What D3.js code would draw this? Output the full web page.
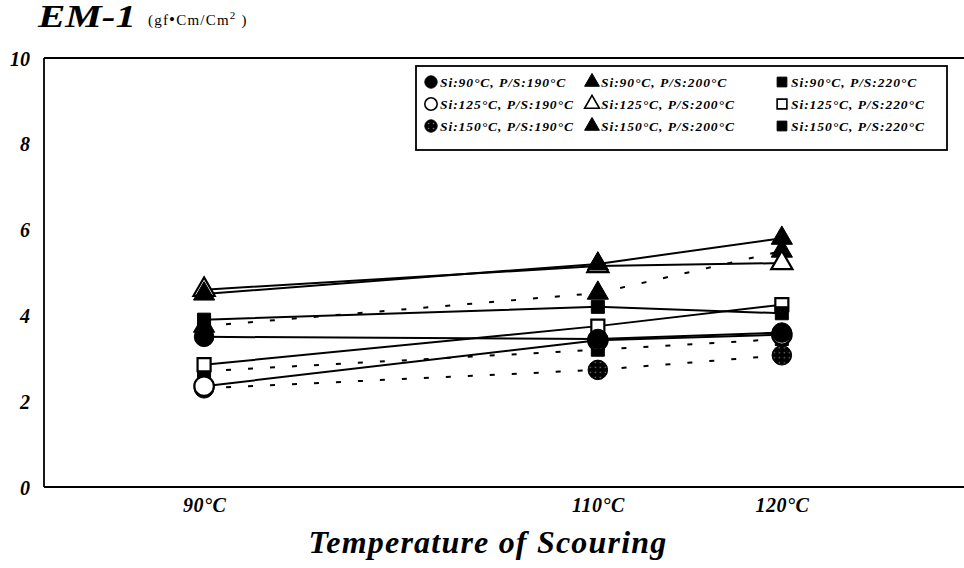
<!DOCTYPE html>
<html><head><meta charset="utf-8">
<script src="https://cdn.jsdelivr.net/npm/d3@7"></script>
<style>
html,body{margin:0;padding:0;background:#fff;}
svg{display:block;}
text{font-family:"Liberation Serif","DejaVu Serif",serif;font-style:italic;font-weight:bold;fill:#000;}
</style></head>
<body><svg id="chart" width="964" height="568"></svg>
<script>
// ---- data ----
const temps = [90, 110, 120];
const tempLabels = ["90°C", "110°C", "120°C"];
const yTicks = [0, 2, 4, 6, 8, 10];
const siLevels = ["90", "125", "150"];
const psLevels = ["190", "200", "220"];
// values at 90°C, 110°C, 120°C
const si90_ps190  = [3.5, 3.45, 3.6];
const si90_ps200  = [4.5, 5.2, 5.8];
const si90_ps220  = [3.9, 4.2, 4.05];
const si125_ps190 = [2.35, 3.42, 3.55];
const si125_ps200 = [4.6, 5.15, 5.22];
const si125_ps220 = [2.85, 3.75, 4.25];
const si150_ps190 = [2.3, 2.73, 3.07];
const si150_ps200 = [3.75, 4.52, 5.5];
const si150_ps220 = [2.7, 3.2, 3.45];

const series = [
  {si:"90",  ps:"190", v:si90_ps190},
  {si:"90",  ps:"200", v:si90_ps200},
  {si:"90",  ps:"220", v:si90_ps220},
  {si:"125", ps:"190", v:si125_ps190},
  {si:"125", ps:"200", v:si125_ps200},
  {si:"125", ps:"220", v:si125_ps220},
  {si:"150", ps:"190", v:si150_ps190},
  {si:"150", ps:"200", v:si150_ps200},
  {si:"150", ps:"220", v:si150_ps220}
];

// ---- layout ----
const plot = {left:44, right:964, top:58, bottom:487};
const svg = d3.select("#chart");

// dotted (hatched) fill for Si:150 P/S:190 circles
const defs = svg.append("defs");
const pat = defs.append("pattern").attr("id", "dots").attr("patternUnits", "userSpaceOnUse")
  .attr("width", 5).attr("height", 5);
pat.append("rect").attr("width", 5).attr("height", 5).attr("fill", "#000");
pat.append("circle").attr("cx", 2.5).attr("cy", 2.5).attr("r", 0.8).attr("fill", "#777");

const pw = plot.right - plot.left;
const x = d3.scaleLinear().domain(temps)
  .range([plot.left + 0.174*pw, plot.left + 0.602*pw, plot.left + 0.802*pw]);
const y = d3.scaleLinear().domain([0, 10]).range([plot.bottom, plot.top]);

const shapeOf = {"190": d3.symbolCircle, "200": d3.symbolTriangle, "220": d3.symbolSquare};
const sizeOf = {"190": 300, "200": 195, "220": 170};
const isOpen = s => s.si === "125";
const isDotted = s => s.si === "150";
const fillOf = s => isOpen(s) ? "#fff" : (s.si === "150" && s.ps === "190" ? "url(#dots)" : "#000");

// frame
[[plot.left, plot.top, plot.right, plot.top],
 [plot.left, plot.bottom, plot.right, plot.bottom],
 [plot.left, plot.top, plot.left, plot.bottom]].forEach(c => {
  svg.append("line").attr("x1", c[0]).attr("y1", c[1]).attr("x2", c[2]).attr("y2", c[3])
    .attr("stroke", "#000").attr("stroke-width", 1.8);
});

// y axis
const yAxis = d3.axisLeft(y).tickValues(yTicks).tickSize(0).tickPadding(14).tickFormat(d3.format("d"));
const yg = svg.append("g").attr("transform", `translate(${plot.left},0)`).call(yAxis);
yg.select(".domain").remove();
yg.selectAll("text").attr("font-size", 20).attr("font-family", null).attr("dy", "0.35em");

// x axis
const xAxis = d3.axisBottom(x).tickValues(temps).tickSize(0).tickPadding(11)
  .tickFormat((d, i) => tempLabels[i]);
const xg = svg.append("g").attr("transform", `translate(0,${plot.bottom})`).call(xAxis);
xg.select(".domain").remove();
xg.selectAll("text").attr("font-size", 20).attr("font-family", null).attr("letter-spacing", 0.5);

// titles
svg.append("text").attr("x", 38).attr("y", 27).attr("font-size", 31).style("font-weight", 900)
  .attr("textLength", 98).attr("lengthAdjust", "spacingAndGlyphs").text("EM-1");
svg.append("text").attr("x", 148).attr("y", 25).attr("font-size", 15).style("font-style", "normal").style("font-weight", "normal")
  .attr("letter-spacing", 1.2)
  .html('(gf<tspan font-size="17">•</tspan>Cm/Cm<tspan dy="-6" font-size="11">2</tspan><tspan dy="6"> )</tspan>');
svg.append("text").attr("x", 488).attr("y", 553).attr("text-anchor", "middle")
  .attr("font-size", 32).attr("letter-spacing", 1.2).text("Temperature of Scouring");

// lines
const line = d3.line().x((d, i) => x(temps[i])).y(d => y(d));
const drawOrder = [6,7,8,3,4,5,0,1,2];
const lg = svg.append("g");
drawOrder.forEach(k => {
  const s = series[k];
  lg.append("path").attr("d", line(s.v)).attr("fill", "none").attr("stroke", "#000")
    .attr("stroke-width", 2)
    .attr("stroke-dasharray", isDotted(s) ? "5,17" : null);
});
drawOrder.forEach(k => {
  const s = series[k];
  svg.append("g").selectAll("path").data(s.v).join("path")
    .attr("transform", (d, i) => `translate(${x(temps[i])},${y(d)})`)
    .attr("d", d3.symbol().type(shapeOf[s.ps]).size(sizeOf[s.ps]))
    .attr("fill", fillOf(s))
    .attr("stroke", "#000").attr("stroke-width", isOpen(s) ? 2.2 : 1);
});

// legend
const leg = {x:416, y:66, w:531, h:84};
svg.append("rect").attr("x", leg.x).attr("y", leg.y).attr("width", leg.w).attr("height", leg.h)
  .attr("fill", "#fff").attr("stroke", "#000").attr("stroke-width", 1.8);
const colX = [431, 592, 782];
const rowY = [82, 104, 126];
series.forEach(s => {
  const r = siLevels.indexOf(s.si), c = psLevels.indexOf(s.ps);
  const g = svg.append("g").attr("transform", `translate(${colX[c]},${rowY[r]})`);
  g.append("path").attr("d", d3.symbol().type(shapeOf[s.ps]).size(s.ps === "190" ? 120 : 95))
    .attr("fill", fillOf(s)).attr("stroke", "#000").attr("stroke-width", isOpen(s) ? 1.6 : 1);
  g.append("text").attr("x", 9).attr("y", 5).attr("font-size", 13.5).attr("letter-spacing", 0.95)
    .text(`Si:${s.si}°C, P/S:${s.ps}°C`);
});
</script></body></html>
